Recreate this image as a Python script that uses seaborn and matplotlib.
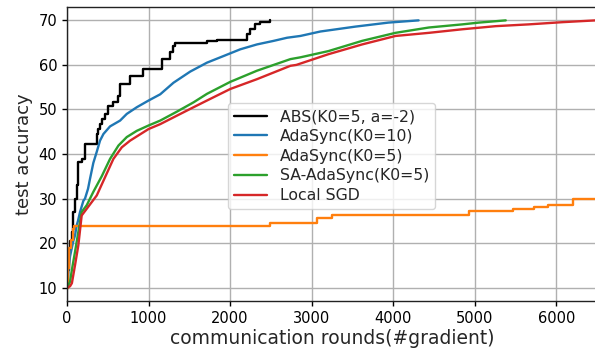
import matplotlib
matplotlib.use("Agg")
import matplotlib.pyplot as plt
import seaborn as sns
import pandas as pd

# ---- data ----
abs_x = [0, 10, 20, 40, 57, 78, 98, 119, 139, 180, 221, 365, 385, 405, 426, 467, 508, 569, 631, 651,
         774, 937, 1163, 1265, 1306, 1327, 1716, 1839, 2207, 2248, 2310, 2371, 2494]
abs_y = [10, 14, 18, 20.5, 22.5, 27, 30, 33, 38.2, 38.9, 42.2, 44.5, 45.6, 46.7, 47.9, 49.0, 50.8, 51.6, 53.1, 55.7,
         57.5, 59.0, 61.3, 62.8, 64.3, 65.0, 65.3, 65.7, 66.9, 68.0, 69.1, 69.6, 70.0]

ada10_x = [0, 20, 37, 60, 78, 98, 119, 135, 160, 201, 221, 258, 283, 323, 365, 405, 447, 528, 651, 733,
           856, 1000, 1143, 1306, 1511, 1716, 1921, 2125, 2330, 2535, 2699, 2862, 3108, 3538, 3943, 4312]
ada10_y = [10, 14.3, 17, 19, 20.5, 21.7, 24, 25, 27, 29.5, 30, 32.2, 34.5, 38.0, 40.5, 43.0, 44.5, 46.2, 47.5, 49.0,
           50.5, 52.0, 53.4, 56.0, 58.5, 60.5, 62.0, 63.5, 64.6, 65.4, 66.1, 66.5, 67.5, 68.6, 69.5, 70.0]

ada5_x = [0, 8, 12, 25, 45, 70, 85, 2494, 3060, 3256, 4929, 5467, 5725, 5897, 6204, 6500]
ada5_y = [10, 11, 14.3, 18.8, 20.6, 23.2, 23.8, 24.4, 25.6, 26.4, 27.1, 27.7, 28.1, 28.5, 30.0, 30.0]

sa_x = [0, 37, 60, 98, 139, 180, 242, 323, 426, 528, 631, 733, 856, 1000, 1143, 1347, 1552, 1716, 2003,
        2330, 2740, 2862, 3206, 3620, 4029, 4439, 4848, 5053, 5381]
sa_y = [10, 11.3, 14, 18, 22.5, 27, 28.5, 31.5, 35, 38.9, 41.9, 43.8, 45.2, 46.4, 47.5, 49.5, 51.6, 53.5, 56.2,
        58.7, 61.3, 61.7, 63.1, 65.4, 67.2, 68.4, 69.1, 69.5, 70.0]

sgd_x = [0, 37, 60, 98, 139, 180, 242, 365, 467, 569, 672, 774, 1000, 1143, 1347, 1552, 1716, 2003, 2330,
         2740, 2813, 3206, 3620, 4029, 4439, 4848, 5258, 5663, 6081, 6486]
sgd_y = [10, 10.3, 11, 15, 19.5, 26.2, 27.7, 30.7, 34.8, 38.9, 41.5, 43.0, 45.6, 46.7, 48.6, 50.5, 52.0, 54.6, 56.8,
         59.8, 60.0, 62.4, 64.6, 66.5, 67.2, 68.0, 68.7, 69.1, 69.6, 70.0]

labels = ["ABS(K0=5, a=-2)", "AdaSync(K0=10)", "AdaSync(K0=5)", "SA-AdaSync(K0=5)", "Local SGD"]
colors = ["black", "#1f77b4", "#ff7f0e", "#2ca02c", "#d62728"]
x_ticks = [0, 1000, 2000, 3000, 4000, 5000, 6000]
y_ticks = [10, 20, 30, 40, 50, 60, 70]

series = [(abs_x, abs_y, "steps-post"), (ada10_x, ada10_y, "default"), (ada5_x, ada5_y, "steps-post"),
          (sa_x, sa_y, "default"), (sgd_x, sgd_y, "default")]

sns.set_style("ticks")
plt.rcParams['font.family'] = ['DejaVu Sans']

fig = plt.figure(figsize=(5.95, 3.51), dpi=100)
ax = fig.add_axes([67 / 595, 1 - 301 / 351, 530 / 595, 294 / 351])

for (xs, ys, ds), lab, col in zip(series, labels, colors):
    df = pd.DataFrame({"x": xs, "y": ys})
    sns.lineplot(data=df, x="x", y="y", ax=ax, label=lab, color=col, linewidth=1.7,
                 drawstyle=ds, estimator=None, sort=False)

ax.set_xlim(0, 6500)
ax.set_ylim(7, 73)
ax.set_xticks(x_ticks)
ax.set_yticks(y_ticks)
ax.tick_params(labelsize=10.5, direction="out", length=3.5, width=1, colors="black")
ax.grid(True, color="#b0b0b0", linewidth=1)
for s in ["left", "bottom", "top"]:
    ax.spines[s].set_color("#222222")
    ax.spines[s].set_linewidth(1)
ax.spines["right"].set_visible(False)
ax.set_xlabel("communication rounds(#gradient)", fontsize=13.5, labelpad=2)
ax.set_ylabel("test accuracy", fontsize=13, labelpad=4)

leg = ax.legend(loc="upper left", bbox_to_anchor=((228 - 67) / 530, (301 - 103) / 294),
                borderaxespad=0, fontsize=11.3, frameon=True, fancybox=True, framealpha=0.8,
                edgecolor="#cccccc", handlelength=2.1, labelspacing=0.3, borderpad=0.4)

fig.savefig("out.png", dpi=100)
